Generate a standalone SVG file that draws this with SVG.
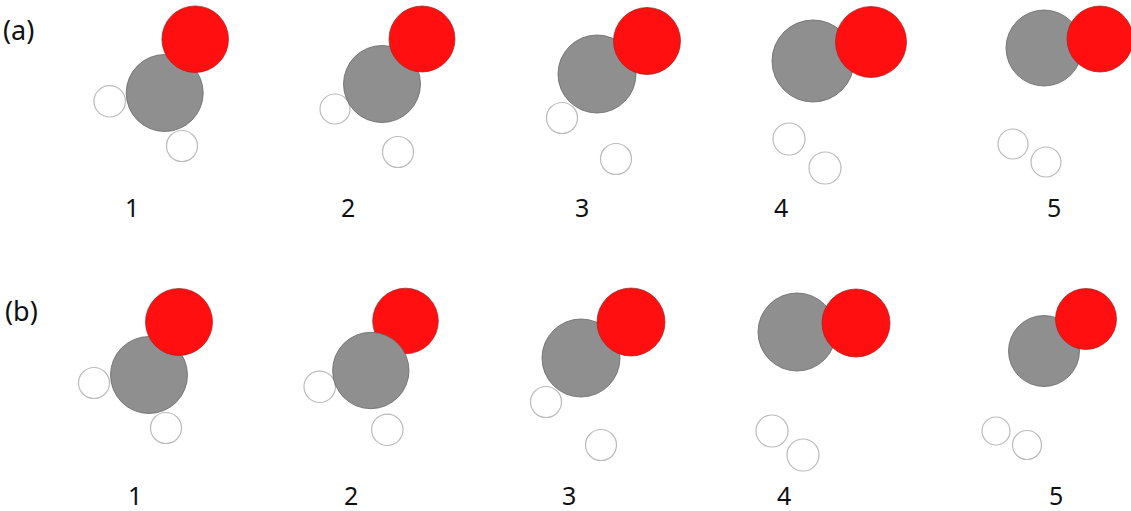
<svg xmlns="http://www.w3.org/2000/svg" width="1131" height="511" viewBox="0 0 1131 511">
<style>
.c{fill:#8f8f8f;stroke:#666;stroke-width:.8}
.o{fill:#ff0f0f;stroke:#a02020;stroke-width:.7}
.h{fill:#fff;stroke:#bbb;stroke-width:1.2}
text{font-family:"Noto Sans","Open Sans",sans-serif;font-size:25px;fill:#111}
.p{font-size:27px}
</style>
<rect width="1131" height="511" fill="#fff"/>
<text class="p" x="3" y="40">(a)</text><text class="p" x="5" y="321">(b)</text>
<g id="a1"><circle class="h" cx="109.700" cy="101.300" r="15.700"/><circle class="h" cx="182" cy="146" r="15.500"/><circle class="c" cx="164.700" cy="93" r="38.500"/><circle class="o" cx="195.200" cy="39.200" r="33.300"/><text x="125" y="217">1</text></g>
<g id="a2"><circle class="h" cx="335" cy="109" r="15"/><circle class="h" cx="398" cy="152" r="15.500"/><circle class="c" cx="382" cy="84" r="38.500"/><circle class="o" cx="422" cy="39" r="33"/><text x="341" y="217">2</text></g>
<g id="a3"><circle class="h" cx="562" cy="118" r="15.500"/><circle class="h" cx="616" cy="159" r="15.500"/><circle class="c" cx="597" cy="74" r="39"/><circle class="o" cx="647" cy="41" r="33.500"/><text x="575" y="217">3</text></g>
<g id="a4"><circle class="h" cx="789" cy="139" r="16"/><circle class="h" cx="825" cy="168" r="16"/><circle class="c" cx="813" cy="61" r="41"/><circle class="o" cx="871" cy="42" r="35.500"/><text x="774" y="217">4</text></g>
<g id="a5"><circle class="h" cx="1013" cy="144" r="15"/><circle class="h" cx="1046" cy="162" r="15"/><circle class="c" cx="1044" cy="48" r="38"/><circle class="o" cx="1100" cy="39" r="33"/><text x="1047" y="217">5</text></g>
<g id="b1"><circle class="h" cx="94" cy="383" r="15.500"/><circle class="h" cx="166" cy="428" r="15.500"/><circle class="c" cx="149" cy="375" r="38.500"/><circle class="o" cx="179" cy="322" r="33.500"/><text x="128" y="504.500">1</text></g>
<g id="b2"><circle class="o" cx="405.500" cy="321" r="32.800"/><circle class="h" cx="319.700" cy="386.800" r="15.700"/><circle class="h" cx="387.300" cy="429.800" r="15.700"/><circle class="c" cx="370.800" cy="370.500" r="38.200"/><text x="344" y="504.500">2</text></g>
<g id="b3"><circle class="h" cx="546" cy="402" r="15.500"/><circle class="h" cx="601" cy="445" r="15.500"/><circle class="c" cx="581" cy="358" r="39"/><circle class="o" cx="631" cy="322" r="34"/><text x="562" y="504.500">3</text></g>
<g id="b4"><circle class="h" cx="772" cy="431" r="16"/><circle class="h" cx="803" cy="455" r="16"/><circle class="c" cx="797" cy="332" r="39"/><circle class="o" cx="856" cy="323" r="34"/><text x="777" y="504.500">4</text></g>
<g id="b5"><circle class="h" cx="996" cy="431" r="14"/><circle class="h" cx="1027" cy="445" r="14.500"/><circle class="c" cx="1044" cy="351" r="35.500"/><circle class="o" cx="1086" cy="319" r="30.500"/><text x="1049" y="504.500">5</text></g>
<g id="connectors"/>
</svg>
